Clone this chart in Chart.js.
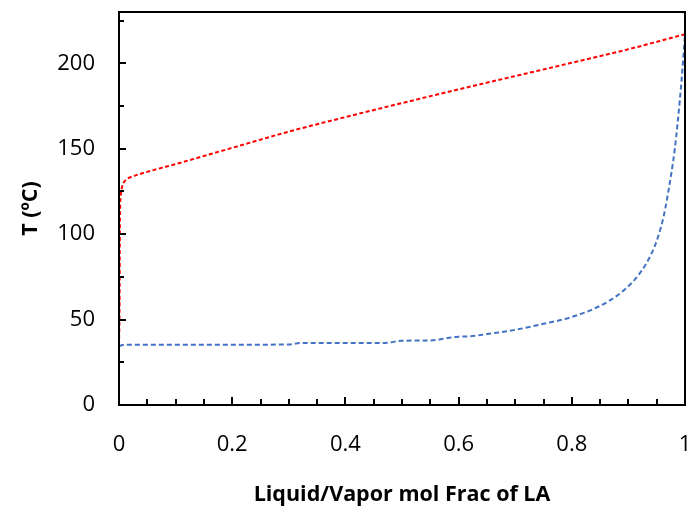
<!DOCTYPE html>
<html>
<head>
<meta charset="utf-8">
<script src="https://cdn.jsdelivr.net/npm/chart.js@4/dist/chart.umd.min.js"></script>
<style>
  html, body { margin: 0; padding: 0; background: #fff; }
  canvas { display: block; }
</style>
</head>
<body>
<canvas id="chart" width="694" height="510"></canvas>
<script>
// vapor curve (red) and liquid curve (blue)
const vaporX = [0, 0.001, 0.0015, 0.002, 0.003, 0.005, 0.008, 0.013, 0.02, 0.04, 0.07, 0.1, 0.2, 0.3, 0.4, 0.5, 0.6, 0.7, 0.8, 0.9, 1];
const vaporT = [35, 60, 100, 115, 122, 127, 130, 132, 133.3, 135.5, 138.3, 141, 150.5, 160, 168.5, 176.7, 184.7, 192.5, 200.3, 208.2, 217];

const liquidX = [0, 0.01, 0.1, 0.2, 0.3, 0.32, 0.4, 0.47, 0.5, 0.55, 0.6, 0.62, 0.65, 0.7, 0.75, 0.8, 0.85, 0.88, 0.9, 0.92, 0.94, 0.952, 0.962, 0.969, 0.982, 0.991, 0.997, 1];
const liquidT = [34.5, 35.3, 35.3, 35.3, 35.4, 36.3, 36.3, 36.3, 37.6, 37.8, 40, 40.2, 41.5, 44, 47.5, 51.5, 58, 64, 69.5, 77, 88, 98, 110, 122, 150, 179, 203, 217];

const xTicks = [0, 0.2, 0.4, 0.6, 0.8, 1];
const yTicks = [0, 50, 100, 150, 200];

const toPoints = (xs, ys) => xs.map((x, i) => ({x: x, y: ys[i]}));

// keep the plot box where the reference has it
const noPad = (s) => {
    s.paddingTop = 0;
    s.paddingBottom = 0;
    s.paddingLeft = 0;
    s.paddingRight = 0;
};

const boxPlugin = {
    id: 'box',
    afterDraw(chart) {
        const ctx = chart.ctx;
        const a = chart.chartArea;
        const xs = chart.scales.x;
        const ys = chart.scales.y;
        ctx.save();
        ctx.strokeStyle = '#000';
        ctx.lineWidth = 2;
        ctx.strokeRect(a.left, a.top, a.right - a.left, a.bottom - a.top);
        ctx.beginPath();
        // inside tick marks
        for (let v = 0; v <= 1.0001; v += 0.05) {
            const px = Math.round(xs.getPixelForValue(v));
            const major = Math.abs(v / 0.2 - Math.round(v / 0.2)) < 1e-6;
            ctx.moveTo(px, a.bottom);
            ctx.lineTo(px, a.bottom - (major ? 8 : 6));
        }
        for (let v = 0; v <= 225; v += 25) {
            const py = Math.round(ys.getPixelForValue(v));
            ctx.moveTo(a.left, py);
            ctx.lineTo(a.left + (v % 50 === 0 ? 7 : 5), py);
        }
        ctx.stroke();
        ctx.restore();
    }
};

new Chart(document.getElementById('chart'), {
    type: 'scatter',
    data: {
        datasets: [
            {
                label: 'Vapor',
                data: toPoints(vaporX, vaporT),
                showLine: true,
                borderColor: '#FF0000',
                borderWidth: 2,
                borderDash: [4, 2.5],
                pointRadius: 0,
                cubicInterpolationMode: 'monotone',
                clip: false
            },
            {
                label: 'Liquid',
                data: toPoints(liquidX, liquidT),
                showLine: true,
                borderColor: '#4472C4',
                borderWidth: 2,
                borderDash: [5, 3],
                pointRadius: 0,
                cubicInterpolationMode: 'monotone',
                clip: false
            }
        ]
    },
    options: {
        responsive: false,
        animation: false,
        devicePixelRatio: 1,
        layout: { padding: { top: 12, right: 9, left: 0, bottom: 0 } },
        plugins: {
            legend: { display: false },
            tooltip: { enabled: false }
        },
        scales: {
            x: {
                type: 'linear',
                min: 0,
                max: 1,
                afterBuildTicks: (s) => { s.ticks = xTicks.map(v => ({value: v})); },
                afterFit: (s) => { s.height = 105; noPad(s); },
                grid: { display: false, drawTicks: false },
                border: { display: false },
                ticks: {
                    padding: 27,
                    color: '#000',
                    font: { family: 'Open Sans', size: 22 },
                    callback: (v) => String(v)
                },
                title: {
                    display: true,
                    text: 'Liquid/Vapor mol Frac of LA',
                    color: '#000',
                    font: { family: 'Open Sans', size: 21.5, weight: 'bold' },
                    padding: { top: 2, bottom: 2 }
                }
            },
            y: {
                type: 'linear',
                min: 0,
                max: 230,
                afterBuildTicks: (s) => { s.ticks = yTicks.map(v => ({value: v})); },
                afterFit: (s) => { s.width = 119; noPad(s); },
                grid: { display: false, drawTicks: false },
                border: { display: false },
                ticks: {
                    padding: 24,
                    color: '#000',
                    font: { family: 'Open Sans', size: 22 }
                },
                title: {
                    display: true,
                    text: 'T (ºC)',
                    color: '#000',
                    font: { family: 'Open Sans', size: 21.5, weight: 'bold' },
                    padding: { top: 18, bottom: 18 }
                }
            }
        }
    },
    plugins: [boxPlugin]
});
</script>
</body>
</html>
